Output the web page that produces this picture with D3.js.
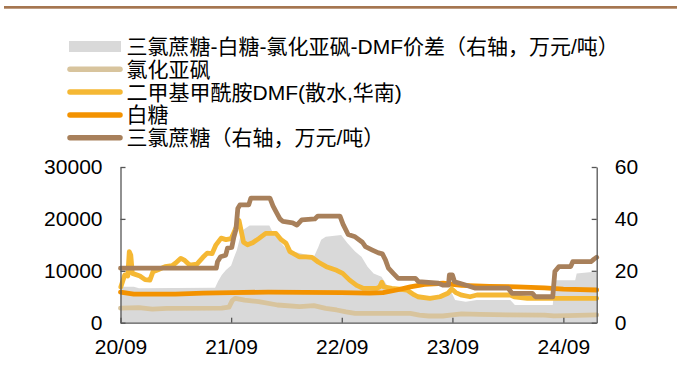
<!DOCTYPE html>
<html><head><meta charset="utf-8">
<script src="https://cdn.jsdelivr.net/npm/d3@7/dist/d3.min.js"></script>
<style>
html,body{margin:0;padding:0;background:#fff;}
svg{display:block;font-family:"Liberation Sans",Arial,"Noto Sans CJK SC",sans-serif;}
</style></head>
<body><svg id="c" width="677" height="381"></svg>
<script>
// ---------- DATA ----------
const legendLabels = [
  "三氯蔗糖-白糖-氯化亚砜-DMF价差（右轴，万元/吨）",
  "氯化亚砜",
  "二甲基甲酰胺DMF(散水,华南)",
  "白糖",
  "三氯蔗糖（右轴，万元/吨）"
];
const xTickLabels = ["20/09","21/09","22/09","23/09","24/09"];
const xTickDates = ["2020-09-01","2021-09-01","2022-09-01","2023-09-01","2024-09-01"];
const leftTicks = [0,10000,20000,30000];
const rightTicks = [0,20,40,60];

// 价差 (right axis, 万元/吨)
const spread = [
  ["2020-09-01",13.9],["2020-10-15",13.9],["2020-11-01",13.3],["2021-03-01",13.4],["2021-07-10",13.5],
  ["2021-07-20",16],["2021-08-01",18.4],["2021-08-15",20.3],["2021-09-01",22],["2021-09-10",25],
  ["2021-09-20",28],["2021-10-01",33],["2021-10-10",35.7],["2021-11-01",37.5],["2022-01-05",37.5],
  ["2022-01-20",34],["2022-02-05",31.9],["2022-03-05",28],["2022-04-20",26.7],["2022-06-01",25.4],
  ["2022-06-15",29],["2022-06-25",32],["2022-07-10",33.1],["2022-08-30",33.8],["2022-09-20",30.6],
  ["2022-10-15",27.4],["2022-11-05",25.4],["2022-11-25",21.6],["2022-12-15",19],["2023-01-10",17.7],
  ["2023-02-01",13.9],["2023-04-01",12.6],["2023-05-15",10],["2023-08-10",10],["2023-08-25",12.6],
  ["2023-09-10",8.7],["2023-10-15",8.1],["2023-11-20",8.7],["2024-03-10",8.7],["2024-03-25",6.8],
  ["2024-07-28",6.8],["2024-08-05",16.4],["2024-10-10",16.4],["2024-10-15",19],["2024-12-20",19.7]
];
// 氯化亚砜 (left axis, 元/吨)
const thionyl = [
  ["2020-09-01",2800],["2020-11-01",2900],["2020-12-15",2600],["2021-02-01",2750],["2021-08-01",2800],
  ["2021-08-25",3000],["2021-09-05",4300],["2021-09-15",4700],["2021-10-15",4370],["2021-12-01",4050],
  ["2022-02-01",3410],["2022-04-15",3080],["2022-06-01",3300],["2022-07-10",2770],["2022-08-15",2450],
  ["2022-09-15",2100],["2022-10-15",1810],["2023-04-15",1800],["2023-05-15",1480],["2023-06-15",1290],
  ["2023-07-31",1290],["2023-09-01",1500],["2023-10-01",1700],["2023-12-01",1600],["2024-03-01",1500],
  ["2024-07-01",1450],["2024-08-01",1300],["2024-09-15",1350],["2024-12-20",1500]
];
// DMF (left axis, 元/吨)
const dmf = [
  ["2020-09-02",6900],["2020-09-15",9200],["2020-09-25",9000],["2020-09-30",13700],["2020-10-05",13000],
  ["2020-10-10",9500],["2020-11-04",9000],["2020-11-21",8300],["2020-12-07",8200],["2020-12-17",9800],
  ["2021-01-03",10200],["2021-01-26",10800],["2021-02-18",11000],["2021-03-02",11500],["2021-03-19",12400],
  ["2021-04-01",12000],["2021-04-17",11100],["2021-05-11",11300],["2021-05-31",12600],["2021-06-14",13400],
  ["2021-06-30",13300],["2021-07-13",15000],["2021-07-30",16300],["2021-08-15",16000],["2021-09-01",16200],
  ["2021-09-11",17500],["2021-09-27",19700],["2021-10-12",15500],["2021-10-25",15000],["2021-11-11",15400],
  ["2021-12-01",16200],["2021-12-24",17200],["2022-01-27",17200],["2022-02-13",16000],["2022-03-01",15300],
  ["2022-03-14",13700],["2022-04-13",12700],["2022-05-06",12700],["2022-05-26",12600],["2022-06-15",11700],
  ["2022-07-12",10800],["2022-08-15",10100],["2022-09-04",9500],["2022-09-27",8200],["2022-10-20",7200],
  ["2022-11-12",6600],["2022-12-25",6600],["2023-01-04",6900],["2023-01-11",7800],["2023-01-18",6900],
  ["2023-02-13",6600],["2023-04-04",6300],["2023-04-27",5400],["2023-05-10",5000],["2023-06-19",4700],
  ["2023-07-22",5000],["2023-08-17",5660],["2023-08-30",6500],["2023-09-12",5800],["2023-10-02",5300],
  ["2023-10-29",5000],["2023-11-21",5340],["2024-03-10",5340],["2024-03-23",5000],["2024-05-05",4700],
  ["2024-12-20",4700]
];
// 白糖 (left axis, 元/吨)
const sugar = [
  ["2020-09-01",5900],["2020-10-15",5500],["2021-03-01",5500],["2021-06-01",5700],["2021-09-01",5800],
  ["2022-01-01",5900],["2022-09-01",5800],["2022-12-01",5700],["2023-01-15",5800],["2023-03-01",6300],
  ["2023-04-15",6900],["2023-06-01",7400],["2023-08-01",7600],["2023-10-01",7200],["2024-01-01",7000],
  ["2024-04-01",6900],["2024-07-01",6700],["2024-09-01",6450],["2024-12-20",6300]
];
// 三氯蔗糖 (right axis, 万元/吨)
const sucralose = [
  ["2020-09-01",21],["2021-07-14",21],["2021-07-18",23.5],["2021-07-28",25.4],["2021-08-14",26],
  ["2021-08-20",28.7],["2021-09-03",29],["2021-09-10",33],["2021-09-17",36],["2021-09-23",44],
  ["2021-09-30",45.4],["2021-10-29",45.4],["2021-11-05",48],["2022-01-07",48],["2022-01-17",45],
  ["2022-01-27",42.8],["2022-02-09",40],["2022-02-19",39],["2022-03-23",38.5],["2022-04-06",37.6],
  ["2022-04-22",39.6],["2022-06-04",40],["2022-06-14",41.1],["2022-08-26",41.1],["2022-09-05",38],
  ["2022-09-22",34],["2022-10-15",33.1],["2022-11-08",31],["2022-11-18",29.3],["2022-12-11",28],
  ["2022-12-31",26.9],["2023-01-13",26.5],["2023-01-23",24.2],["2023-02-02",21],["2023-02-18",19],
  ["2023-03-06",17.1],["2023-05-02",17.1],["2023-05-12",15.8],["2023-07-17",15.2],["2023-07-31",14.5],
  ["2023-08-19",14.5],["2023-08-22",18.4],["2023-09-01",18.4],["2023-09-08",15.8],["2023-10-14",14.5],
  ["2023-11-16",13.3],["2024-03-03",13.3],["2024-03-16",11.3],["2024-05-22",11.3],["2024-06-01",10],
  ["2024-07-28",10],["2024-08-04",19.7],["2024-08-17",21.6],["2024-09-25",21.6],["2024-10-02",23.5],
  ["2024-12-01",23.5],["2024-12-11",24.5],["2024-12-20",25.2]
];

// ---------- CHART ----------
const parse = d3.timeParse("%Y-%m-%d");
const svg = d3.select("#c");
const L = 120.5, R = 596.7, T = 167, B = 322.7;
const x = d3.scaleTime().domain([parse("2020-09-01"), parse("2024-12-20")]).range([L, R]);
const yL = d3.scaleLinear().domain([0,30000]).range([B,T]);
const yR = d3.scaleLinear().domain([0,60]).range([B,T]);

// top rule
svg.append("rect").attr("x",4).attr("y",6).attr("width",673).attr("height",2.7).attr("fill","#A57650");

const colors = {spread:"#D9D9D9", thionyl:"#D8C49D", dmf:"#F5B834", sugar:"#F39200", sucralose:"#A8805B"};

// area
svg.append("path").datum(spread)
  .attr("fill", colors.spread)
  .attr("d", d3.area().x(d=>x(parse(d[0]))).y0(yR(0)).y1(d=>yR(d[1])));

const lineL = d3.line().x(d=>x(parse(d[0]))).y(d=>yL(d[1]));
const lineR = d3.line().x(d=>x(parse(d[0]))).y(d=>yR(d[1]));
[[thionyl,lineL,colors.thionyl],[dmf,lineL,colors.dmf],[sugar,lineL,colors.sugar],[sucralose,lineR,colors.sucralose]]
.forEach(([data,gen,c])=>{
  svg.append("path").datum(data).attr("fill","none").attr("stroke",c)
    .attr("stroke-width",4.8).attr("stroke-linejoin","round").attr("stroke-linecap","round")
    .attr("d",gen);
});

// axes
const axisColor = "#555";
function styleAxis(g){
  g.selectAll("path.domain").attr("stroke",axisColor).attr("stroke-width",1.3);
  g.selectAll(".tick line").attr("stroke",axisColor).attr("stroke-width",1.3);
  g.selectAll("text").attr("fill","#000").attr("font-size","21px").attr("font-family","'Liberation Sans',Arial,sans-serif");
}
svg.append("g").attr("transform",`translate(${L},0)`)
  .call(d3.axisLeft(yL).tickValues(leftTicks).tickFormat(d3.format("d")).tickSizeInner(-5).tickSizeOuter(0).tickPadding(18))
  .call(styleAxis);
svg.append("g").attr("transform",`translate(${R},0)`)
  .call(d3.axisRight(yR).tickValues(rightTicks).tickFormat(d3.format("d")).tickSizeInner(-5).tickSizeOuter(0).tickPadding(18))
  .call(styleAxis);
svg.append("g").attr("transform",`translate(0,${B})`)
  .call(d3.axisBottom(x).tickValues(xTickDates.map(parse)).tickFormat((d,i)=>xTickLabels[i]).tickSizeInner(-5).tickSizeOuter(0).tickPadding(16.5))
  .call(styleAxis);

// legend
const legendY0 = 46.5, legendDy = 22.8;
const lg = svg.append("g");
const legendColors = [colors.spread, colors.thionyl, colors.dmf, colors.sugar, colors.sucralose];
legendLabels.forEach((lab,i)=>{
  const cy = legendY0 + i*legendDy;
  if(i===0){
    lg.append("rect").attr("x",69).attr("y",cy-5.5).attr("width",52).attr("height",11).attr("fill",legendColors[i]);
  } else {
    lg.append("line").attr("x1",70).attr("x2",120).attr("y1",cy).attr("y2",cy)
      .attr("stroke",legendColors[i]).attr("stroke-width",5.5).attr("stroke-linecap","round");
  }
  const t = lg.append("text").attr("x",126.5).attr("y",cy).attr("dy","0.36em")
    .attr("font-size","21px").attr("fill","#000")
    .attr("font-family","'Liberation Sans',Arial,'Noto Sans CJK SC',sans-serif")
    .text(lab);
  if(i===0){
    const w = t.node().getBBox().width;
    const n = [...lab].length;
    const extra = Math.max(0, (486 - w) / (n - 1));
    t.style("letter-spacing", extra.toFixed(2) + "px");
  }
});
</script></body></html>
